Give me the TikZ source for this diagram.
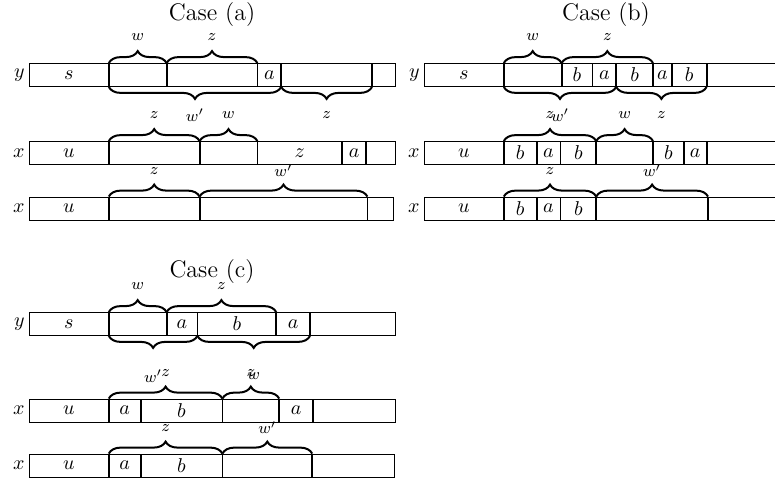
\documentclass[tikz,border=0pt]{standalone}
\usetikzlibrary{positioning,decorations.pathreplacing}
\begin{document}
\begin{tikzpicture}[
					x = 0.5pt, y = -0.5pt,
					cell/.style = {
						shape = rectangle,
						draw,
						inner sep = 0pt,
						minimum height = 11.5pt,
						minimum width = #1*0.5pt,
					},
					rowlbl/.style = {inner sep = 1pt},
					brace/.style = {
						decorate,
						decoration = {brace, amplitude = 6pt},
						line width = 1pt,
					},
					lbl/.style = {font = \footnotesize},
					title/.style = {font = \large},
			]
				\useasboundingbox (0, 0) rectangle (775, 487);
				\clip (0, 0) rectangle (775, 487);

				% Case (a)
				\node (ta) [title] at (212, 15) {Case (a)};

				\node (ya1) [cell=79, anchor=west] at (29, 75) {$s$};
				\node (ya2) [cell=57, right=0pt of ya1] {};
				\node (ya3) [cell=90, right=0pt of ya2] {};
				\node (ya4) [cell=23, right=0pt of ya3] {$a$};
				\node (ya5) [cell=90, right=0pt of ya4] {};
				\node (ya6) [cell=23, right=0pt of ya5] {};
				\node (lya) [rowlbl, left=1pt of ya1] {$y$};

				\node (pa1) [cell=79, anchor=west] at (29, 153) {$u$};
				\node (pa2) [cell=90, right=0pt of pa1] {};
				\node (pa3) [cell=57, right=0pt of pa2] {};
				\node (pa4) [cell=84, right=0pt of pa3] {$z$};
				\node (pa5) [cell=23, right=0pt of pa4] {$a$};
				\node (pa6) [cell=29, right=0pt of pa5] {};
				\node (lpa) [rowlbl, left=1pt of pa1] {$x$};

				\node (qa1) [cell=79, anchor=west] at (29, 208.5) {$u$};
				\node (qa2) [cell=90, right=0pt of qa1] {};
				\node (qa3) [cell=167, right=0pt of qa2] {};
				\node (qa4) [cell=26, right=0pt of qa3] {};
				\node (lqa) [rowlbl, left=1pt of qa1] {$x$};

				\draw [brace] (ya2.north west) -- node (wa1) [lbl, yshift=13pt] {$w$} (ya2.north east);
				\draw [brace] (ya3.north west) -- node (za1) [lbl, yshift=13pt] {$z$} (ya3.north east);
				\draw [brace] (ya4.south east) -- node (wa2) [lbl, yshift=-14pt] {$w'$} (ya2.south west);
				\draw [brace] (ya5.south east) -- node (za2) [lbl, yshift=-14pt] {$z$} (ya5.south west);
				\draw [brace] (pa2.north west) -- node (za3) [lbl, yshift=13pt] {$z$} (pa2.north east);
				\draw [brace] (pa3.north west) -- node (wa3) [lbl, yshift=13pt] {$w$} (pa3.north east);
				\draw [brace] (qa2.north west) -- node (za4) [lbl, yshift=13pt] {$z$} (qa2.north east);
				\draw [brace] (qa3.north west) -- node (wa4) [lbl, yshift=13pt] {$w'$} (qa3.north east);

				% Case (b)
				\node (tb) [title] at (606, 15) {Case (b)};

				\node (yb1) [cell=79, anchor=west] at (424, 75) {$s$};
				\node (yb2) [cell=57, right=0pt of yb1] {};
				\node (yb3) [cell=30, right=0pt of yb2] {$b$};
				\node (yb4) [cell=23, right=0pt of yb3] {$a$};
				\node (yb5) [cell=36, right=0pt of yb4] {$b$};
				\node (yb6) [cell=18, right=0pt of yb5] {$a$};
				\node (yb7) [cell=34, right=0pt of yb6] {$b$};
				\node (yb8) [cell=85, right=0pt of yb7] {};
				\node (lyb) [rowlbl, left=1pt of yb1] {$y$};

				\node (pb1) [cell=79, anchor=west] at (424, 153) {$u$};
				\node (pb2) [cell=32, right=0pt of pb1] {$b$};
				\node (pb3) [cell=23, right=0pt of pb2] {$a$};
				\node (pb4) [cell=35, right=0pt of pb3] {$b$};
				\node (pb5) [cell=56, right=0pt of pb4] {};
				\node (pb6) [cell=30, right=0pt of pb5] {$b$};
				\node (pb7) [cell=22, right=0pt of pb6] {$a$};
				\node (pb8) [cell=85, right=0pt of pb7] {};
				\node (lpb) [rowlbl, left=1pt of pb1] {$x$};

				\node (qb1) [cell=79, anchor=west] at (424, 208.5) {$u$};
				\node (qb2) [cell=32, right=0pt of qb1] {$b$};
				\node (qb3) [cell=23, right=0pt of qb2] {$a$};
				\node (qb4) [cell=35, right=0pt of qb3] {$b$};
				\node (qb5) [cell=111, right=0pt of qb4] {};
				\node (qb6) [cell=82, right=0pt of qb5] {};
				\node (lqb) [rowlbl, left=1pt of qb1] {$x$};

				\draw [brace] (yb2.north west) -- node (wb1) [lbl, yshift=13pt] {$w$} (yb2.north east);
				\draw [brace] (yb3.north west) -- node (zb1) [lbl, yshift=13pt] {$z$} (yb5.north east);
				\draw [brace] (yb4.south east) -- node (wb2) [lbl, yshift=-14pt] {$w'$} (yb2.south west);
				\draw [brace] (yb7.south east) -- node (zb2) [lbl, yshift=-14pt] {$z$} (yb5.south west);
				\draw [brace] (pb2.north west) -- node (zb3) [lbl, yshift=13pt] {$z$} (pb4.north east);
				\draw [brace] (pb5.north west) -- node (wb3) [lbl, yshift=13pt] {$w$} (pb5.north east);
				\draw [brace] (qb2.north west) -- node (zb4) [lbl, yshift=13pt] {$z$} (qb4.north east);
				\draw [brace] (qb5.north west) -- node (wb4) [lbl, yshift=13pt] {$w'$} (qb5.north east);

				% Case (c)
				\node (tc) [title] at (212, 272) {Case (c)};

				\node (yc1) [cell=79, anchor=west] at (29, 324) {$s$};
				\node (yc2) [cell=57, right=0pt of yc1] {};
				\node (yc3) [cell=30, right=0pt of yc2] {$a$};
				\node (yc4) [cell=78, right=0pt of yc3] {$b$};
				\node (yc5) [cell=33, right=0pt of yc4] {$a$};
				\node (yc6) [cell=85, right=0pt of yc5] {};
				\node (lyc) [rowlbl, left=1pt of yc1] {$y$};

				\node (pc1) [cell=79, anchor=west] at (29, 410.5) {$u$};
				\node (pc2) [cell=31, right=0pt of pc1] {$a$};
				\node (pc3) [cell=81, right=0pt of pc2] {$b$};
				\node (pc4) [cell=56, right=0pt of pc3] {};
				\node (pc5) [cell=33, right=0pt of pc4] {$a$};
				\node (pc6) [cell=82, right=0pt of pc5] {};
				\node (lpc) [rowlbl, left=1pt of pc1] {$x$};

				\node (qc1) [cell=79, anchor=west] at (29, 465.5) {$u$};
				\node (qc2) [cell=31, right=0pt of qc1] {$a$};
				\node (qc3) [cell=81, right=0pt of qc2] {$b$};
				\node (qc4) [cell=89, right=0pt of qc3] {};
				\node (qc5) [cell=82, right=0pt of qc4] {};
				\node (lqc) [rowlbl, left=1pt of qc1] {$x$};

				\draw [brace] (yc2.north west) -- node (wc1) [lbl, yshift=13pt] {$w$} (yc2.north east);
				\draw [brace] (yc3.north west) -- node (zc1) [lbl, yshift=13pt] {$z$} (yc4.north east);
				\draw [brace] (yc3.south east) -- node (wc2) [lbl, yshift=-20pt] {$w'$} (yc2.south west);
				\draw [brace] (yc5.south east) -- node (wc3) [lbl, yshift=-20pt] {$w$} (yc4.south west);
				\draw [brace] (pc2.north west) -- node (zc2) [lbl, yshift=13pt] {$z$} (pc3.north east);
				\draw [brace] (pc4.north west) -- node (zc3) [lbl, yshift=13pt] {$z$} (pc4.north east);
				\draw [brace] (qc2.north west) -- node (zc4) [lbl, yshift=13pt] {$z$} (qc3.north east);
				\draw [brace] (qc4.north west) -- node (wc4) [lbl, yshift=13pt] {$w'$} (qc4.north east);
			\end{tikzpicture}
\end{document}
